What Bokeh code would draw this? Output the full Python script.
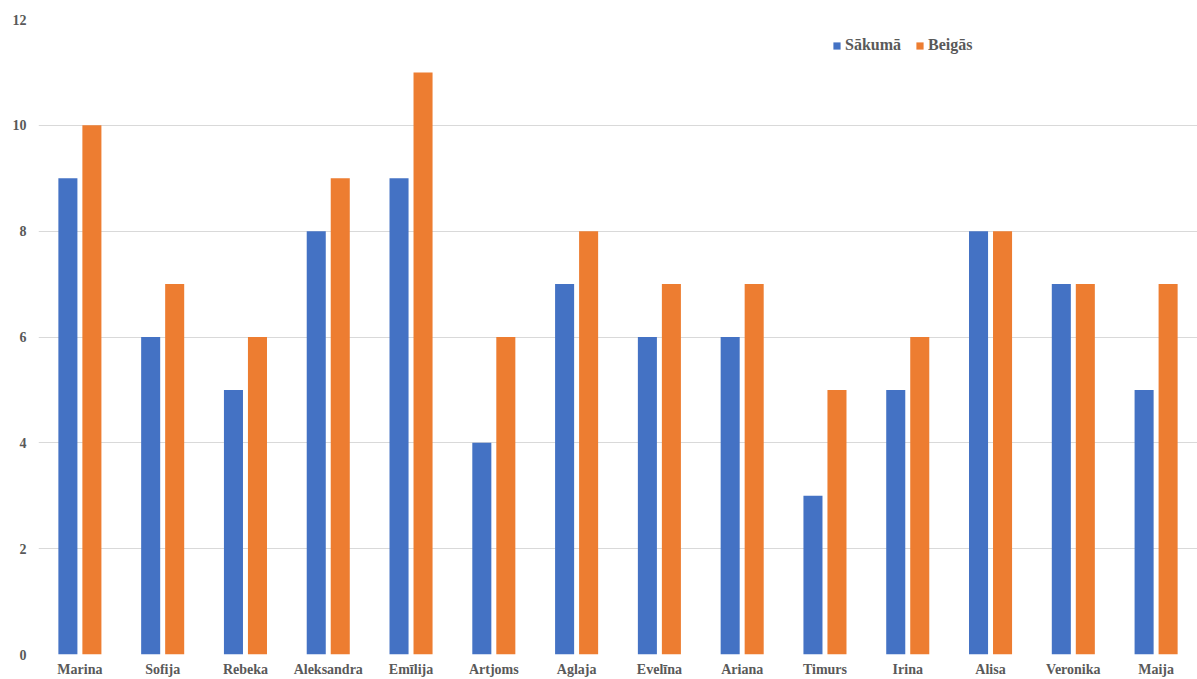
from bokeh.plotting import figure
from bokeh.models import ColumnDataSource, FactorRange, Range1d, FixedTicker, Legend, LegendItem
from bokeh.transform import dodge
from bokeh.embed import file_html
from bokeh.resources import INLINE

names = ["Marina", "Sofija", "Rebeka", "Aleksandra", "Emīlija", "Artjoms", "Aglaja",
         "Evelīna", "Ariana", "Timurs", "Irina", "Alisa", "Veronika", "Maija"]
sakuma = [9, 6, 5, 8, 9, 4, 7, 6, 6, 3, 5, 8, 7, 5]
beigas = [10, 7, 6, 9, 11, 6, 8, 7, 7, 5, 6, 8, 7, 7]
y_ticks = [0, 2, 4, 6, 8, 10, 12]

BLUE = "#4472C4"
ORANGE = "#ED7D31"
TEXT = "#595959"
FONT = "Liberation Serif"

src = ColumnDataSource(dict(names=names, sakuma=sakuma, beigas=beigas))

p = figure(width=1197, height=679, x_range=FactorRange(*names, range_padding=0),
           y_range=Range1d(0, 12), output_backend="svg", toolbar_location=None,
           min_border_left=38, min_border_right=0, min_border_top=19, min_border_bottom=0,
           outline_line_color=None)
p.x_range.range_padding = 0

r1 = p.vbar(x=dodge("names", -0.145, range=p.x_range), top="sakuma", width=0.23,
            source=src, fill_color=BLUE, line_color=None)
r2 = p.vbar(x=dodge("names", 0.145, range=p.x_range), top="beigas", width=0.23,
            source=src, fill_color=ORANGE, line_color=None)

p.xgrid.grid_line_color = None
p.ygrid.grid_line_color = "#D9D9D9"
p.ygrid.grid_line_width = 1
p.yaxis.ticker = FixedTicker(ticks=y_ticks)

for ax in (p.xaxis[0], p.yaxis[0]):
    ax.axis_line_color = None
    ax.major_tick_line_color = None
    ax.minor_tick_line_color = None
    ax.major_tick_out = 0
    ax.major_tick_in = 0
    ax.minor_tick_out = 0
    ax.minor_tick_in = 0
    ax.major_label_text_font = FONT
    ax.major_label_text_font_style = "bold"
    ax.major_label_text_color = TEXT
    ax.major_label_text_font_size = "14px"
p.yaxis.major_label_standoff = 12
p.xaxis.major_label_standoff = 7

legend = Legend(items=[LegendItem(label="Sākumā", renderers=[r1]),
                       LegendItem(label="Beigās", renderers=[r2])],
                orientation="horizontal", location=(794, 600),
                border_line_color=None, background_fill_alpha=0,
                label_text_font=FONT, label_text_font_style="bold",
                label_text_color=TEXT, label_text_font_size="16px",
                glyph_width=9, glyph_height=9, label_standoff=4, spacing=14,
                padding=0, margin=0)
p.add_layout(legend)

open("out.html", "w").write(file_html(p, INLINE))
